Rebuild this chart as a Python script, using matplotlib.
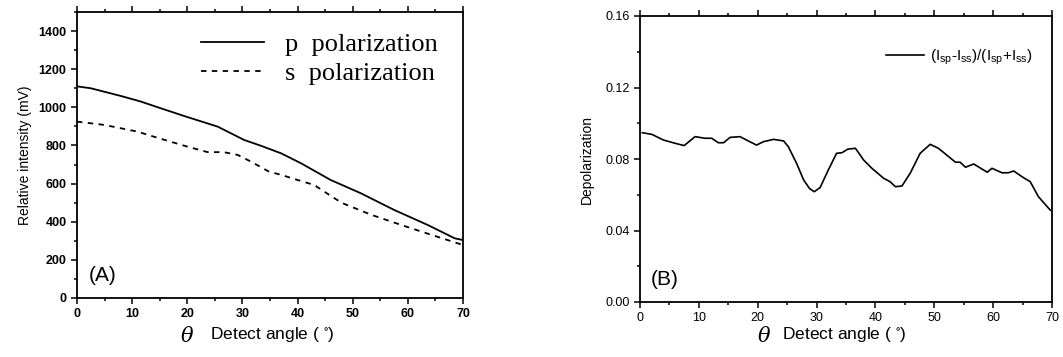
import matplotlib
matplotlib.use("Agg")
import matplotlib.pyplot as plt
from matplotlib.ticker import MultipleLocator

plt.rcParams["font.family"] = ["Liberation Sans", "DejaVu Sans"]
plt.rcParams["mathtext.default"] = "regular"

# panel A: relative intensity vs detect angle
p_angle = [0, 2.5, 7.9, 11.5, 15.2, 19.7, 25.5, 30.3, 33.4, 37, 40.6, 46, 51.5, 57.5, 63.6, 68.5, 70]
p_int = [1110, 1100, 1060, 1031, 995, 952, 899, 829, 798, 759, 707, 619, 549, 462, 383, 313, 304]

s_angle = [0, 4.9, 10.9, 15.2, 20, 23.7, 26.6, 29.1, 31.5, 34.8, 37, 40, 43, 45, 48, 53.4, 58.8, 64.3, 70]
s_int = [925, 908, 873, 835, 794, 765, 765, 751, 716, 663, 646, 619, 593, 555, 499, 436, 383, 331, 278]

# panel B: depolarization ratio
d_angle = [0.4, 2.0, 4.0, 5.95, 7.5, 9.35, 11.05, 12.2, 13.3, 14.2, 15.3, 17.0, 18.4, 19.8, 21.0,
           22.7, 24.4, 25.2, 26.6, 27.8, 28.8, 29.6, 30.6, 32.0, 33.4, 34.3, 35.3, 36.6, 38.0, 39.4,
           41.4, 42.5, 43.4, 44.5, 45.9, 47.6, 49.3, 50.7, 53.6, 54.4, 55.3, 56.7, 59.0, 59.8,
           61.5, 62.6, 63.5, 64.9, 66.3, 67.7, 69.7]
d_val = [0.0947, 0.0938, 0.0906, 0.0888, 0.0875, 0.0925, 0.0916, 0.0916, 0.0891, 0.0891, 0.0921,
         0.0925, 0.0901, 0.0878, 0.0897, 0.0910, 0.0901, 0.0869, 0.0776, 0.0683, 0.0635, 0.0617, 0.0640,
         0.0739, 0.0832, 0.0835, 0.0855, 0.0860, 0.0794, 0.0748, 0.0692, 0.0673, 0.0645, 0.0649,
         0.0720, 0.0832, 0.0882, 0.0860, 0.0782, 0.0782, 0.0754, 0.0772, 0.0726, 0.0748, 0.0723,
         0.0723, 0.0733, 0.0701, 0.0673, 0.0589, 0.0514]

W, H = 1063, 357
fig = plt.figure(figsize=(W / 100, H / 100), dpi=100)
axA = fig.add_axes([77 / W, 59 / H, 386 / W, 286 / H])
axB = fig.add_axes([640 / W, 55 / H, 412 / W, 286 / H])


def style_axes(ax):
    for sp in ax.spines.values():
        sp.set_linewidth(1.3)
    ax.tick_params(which="both", direction="out", top=True, right=False,
                   labelsize=9, width=1.1)
    ax.tick_params(which="major", length=4)
    ax.tick_params(which="minor", length=2)
    ax.xaxis.set_major_locator(MultipleLocator(10))
    ax.xaxis.set_minor_locator(MultipleLocator(5))


# ---- panel A ----
axA.plot(p_angle, p_int, color="black", lw=1.3, label="p  polarization")
axA.plot(s_angle, s_int, color="black", lw=1.3, ls=(0, (3, 3)), label="s  polarization")
axA.set_xlim(0, 70)
axA.set_ylim(0, 1500)
axA.yaxis.set_minor_locator(MultipleLocator(100))
axA.set_yticks(range(0, 1401, 200))
style_axes(axA)
axA.set_xticks(range(0, 71, 10))
axA.set_xticklabels([str(v) for v in range(0, 71, 10)], fontweight="bold")
axA.set_yticklabels([str(v) for v in range(0, 1401, 200)], fontweight="bold")
axA.set_ylabel("Relative intensity (mV)", fontsize=10, labelpad=5)
axA.legend(loc="upper right", frameon=False, prop={"family": "Liberation Serif", "size": 19},
           handlelength=2.4, handletextpad=0.8, labelspacing=0.2, borderpad=0.4,
           bbox_to_anchor=(0.962, 0.965), borderaxespad=0)
axA.text(0.03, 0.08, "(A)", transform=axA.transAxes, fontsize=15, ha="left", va="center")

# ---- panel B ----
axB.plot(d_angle, d_val, color="black", lw=1.2, label="(I$_{sp}$-I$_{ss}$)/(I$_{sp}$+I$_{ss}$)")
axB.set_xlim(0, 70)
axB.set_ylim(0, 0.16)
axB.yaxis.set_major_locator(MultipleLocator(0.04))
axB.yaxis.set_minor_locator(MultipleLocator(0.02))
axB.yaxis.set_major_formatter(plt.FormatStrFormatter("%.2f"))
style_axes(axB)
axB.set_ylabel("Depolarization", fontsize=10, labelpad=8)
axB.legend(loc="upper right", frameon=False, fontsize=11, handlelength=2.5,
           handletextpad=0.4, bbox_to_anchor=(0.968, 0.91), borderaxespad=0)
axB.text(0.025, 0.08, "(B)", transform=axB.transAxes, fontsize=15, ha="left", va="center")

# x labels: theta + text
for x_theta, x_txt in [(180, 210), (757, 782)]:
    fig.text(x_theta / W, 1 - 336 / H, r"$\theta$", fontsize=15, ha="left", va="center",
             family="DejaVu Serif", style="italic")
    fig.text(x_txt / W, 1 - 335 / H, "Detect angle ( $^{\circ}$)", fontsize=12.5,
             ha="left", va="center")

fig.savefig("out.png", dpi=100)
